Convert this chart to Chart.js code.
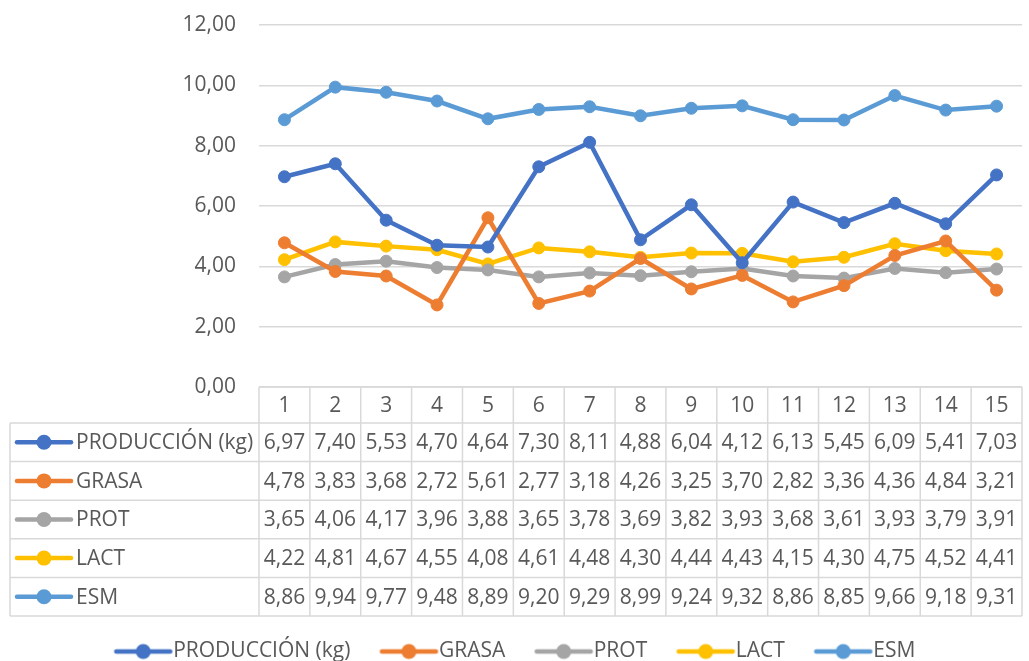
<!DOCTYPE html>
<html><head><meta charset="utf-8">
<script src="https://cdn.jsdelivr.net/npm/chart.js@4"></script>
<style>html,body{margin:0;padding:0;background:#fff;overflow:hidden}</style>
</head><body>
<canvas id="c" width="1029" height="661"></canvas>
<script>
const categories = ['1','2','3','4','5','6','7','8','9','10','11','12','13','14','15'];
const seriesNames = ['PRODUCCIÓN (kg)','GRASA','PROT','LACT','ESM'];
const produccion = [6.97,7.40,5.53,4.70,4.64,7.30,8.11,4.88,6.04,4.12,6.13,5.45,6.09,5.41,7.03];
const grasa      = [4.78,3.83,3.68,2.72,5.61,2.77,3.18,4.26,3.25,3.70,2.82,3.36,4.36,4.84,3.21];
const prot       = [3.65,4.06,4.17,3.96,3.88,3.65,3.78,3.69,3.82,3.93,3.68,3.61,3.93,3.79,3.91];
const lact       = [4.22,4.81,4.67,4.55,4.08,4.61,4.48,4.30,4.44,4.43,4.15,4.30,4.75,4.52,4.41];
const esm        = [8.86,9.94,9.77,9.48,8.89,9.20,9.29,8.99,9.24,9.32,8.86,8.85,9.66,9.18,9.31];
const yTickValues = [0,2,4,6,8,10,12];
const seriesColors = ['#4472C4','#ED7D31','#A5A5A5','#FFC000','#5B9BD5'];
const seriesValues = [produccion, grasa, prot, lact, esm];

const FONT = '"Open Sans", "DejaVu Sans", sans-serif';
const FSIZE = 21;
const TXT = '#595959';
const GRID = '#d9d9d9';
const fmt = v => v.toFixed(2).replace('.', ',');

function drawIcon(ctx, cx, cy, color) {
  ctx.save();
  ctx.strokeStyle = color; ctx.fillStyle = color;
  ctx.lineWidth = 4.5; ctx.lineCap = 'round';
  ctx.beginPath(); ctx.moveTo(cx - 27, cy); ctx.lineTo(cx + 27, cy); ctx.stroke();
  ctx.beginPath(); ctx.arc(cx, cy, 7.5, 0, Math.PI * 2); ctx.fill();
  ctx.restore();
}
function makeLegendIcon(color) {
  const cv = document.createElement('canvas');
  cv.width = 72; cv.height = 20;
  drawIcon(cv.getContext('2d'), 41.5, 10, color);
  return cv;
}
const legendIcons = seriesColors.map(makeLegendIcon);

const tablePlugin = {
  id: 'dataTable',
  afterDraw(chart) {
    const {ctx, chartArea} = chart;
    const x = chart.scales.x;
    const n = categories.length;
    const colW = x.getPixelForValue(1) - x.getPixelForValue(0);
    const top = chartArea.bottom;
    const headerH = 36, rowH = 38.6, left = 10, right = chartArea.right;
    const rows = chart.data.datasets.length;
    const tableTop = top + headerH;
    const bottom = tableTop + rows * rowH;
    ctx.save();
    ctx.strokeStyle = GRID; ctx.lineWidth = 1.5;
    ctx.beginPath();
    ctx.moveTo(chartArea.left, top); ctx.lineTo(right, top);
    for (let r = 0; r <= rows; r++) {
      const y = tableTop + r * rowH;
      ctx.moveTo(left, y); ctx.lineTo(right, y);
    }
    ctx.moveTo(left, tableTop); ctx.lineTo(left, bottom);
    for (let i = 0; i <= n; i++) {
      const xx = i < n ? x.getPixelForValue(i) - colW / 2 : x.getPixelForValue(n - 1) + colW / 2;
      ctx.moveTo(xx, top); ctx.lineTo(xx, bottom);
    }
    ctx.stroke();
    ctx.font = FSIZE + 'px ' + FONT;
    ctx.fillStyle = TXT;
    ctx.textBaseline = 'middle';
    chart.data.datasets.forEach((ds, r) => {
      const cy = tableTop + r * rowH + rowH / 2;
      drawIcon(ctx, 44, cy, ds.borderColor);
      ctx.fillStyle = TXT;
      ctx.textAlign = 'left';
      ctx.fillText(ds.label, 76, cy + 1);
      ctx.textAlign = 'center';
      ds.data.forEach((v, i) => ctx.fillText(fmt(v), x.getPixelForValue(i), cy + 1));
    });
    ctx.restore();
  }
};

function build() {
  Chart.defaults.font.family = FONT;
  Chart.defaults.font.size = FSIZE;
  Chart.defaults.color = TXT;
  new Chart(document.getElementById('c'), {
    type: 'line',
    data: {
      labels: categories,
      datasets: seriesNames.map((name, k) => ({
        label: name,
        data: seriesValues[k],
        borderColor: seriesColors[k],
        backgroundColor: seriesColors[k],
        pointBackgroundColor: seriesColors[k],
        pointBorderColor: seriesColors[k],
        borderWidth: 4.5,
        pointRadius: 6,
        pointBorderWidth: 1,
        tension: 0,
        fill: false
      }))
    },
    options: {
      responsive: false,
      animation: false,
      devicePixelRatio: 1,
      layout: { padding: { top: 25, right: 1, left: 0, bottom: 0 } },
      scales: {
        x: {
          offset: true,
          grid: { display: false, drawTicks: false },
          border: { display: false },
          ticks: { padding: 6, color: TXT, font: { size: FSIZE } },
          afterFit(scale) { scale.height = 226; }
        },
        y: {
          min: 0, max: 12,
          grid: { color: GRID, lineWidth: 1.5, drawTicks: true, tickLength: 23, tickColor: 'rgba(0,0,0,0)' },
          border: { display: false },
          afterBuildTicks(scale) { scale.ticks = yTickValues.map(v => ({ value: v })); },
          ticks: { padding: 0, color: TXT, font: { size: FSIZE }, callback: v => fmt(v) },
          afterFit(scale) { scale.width = 259; }
        }
      },
      plugins: {
        tooltip: { enabled: false },
        legend: {
          position: 'bottom',
          maxHeight: 48,
          labels: {
            usePointStyle: true,
            pointStyleWidth: 50,
            padding: 28,
            color: TXT,
            font: { size: FSIZE },
            generateLabels(chart) {
              const items = Chart.defaults.plugins.legend.labels.generateLabels(chart);
              return items.map((it, k) => Object.assign(it, { pointStyle: legendIcons[k] }));
            }
          }
        }
      }
    },
    plugins: [tablePlugin]
  });
}
if (document.fonts && document.fonts.load) {
  document.fonts.load(FSIZE + 'px "Open Sans"').then(build, build);
} else { build(); }
</script>
</body></html>
